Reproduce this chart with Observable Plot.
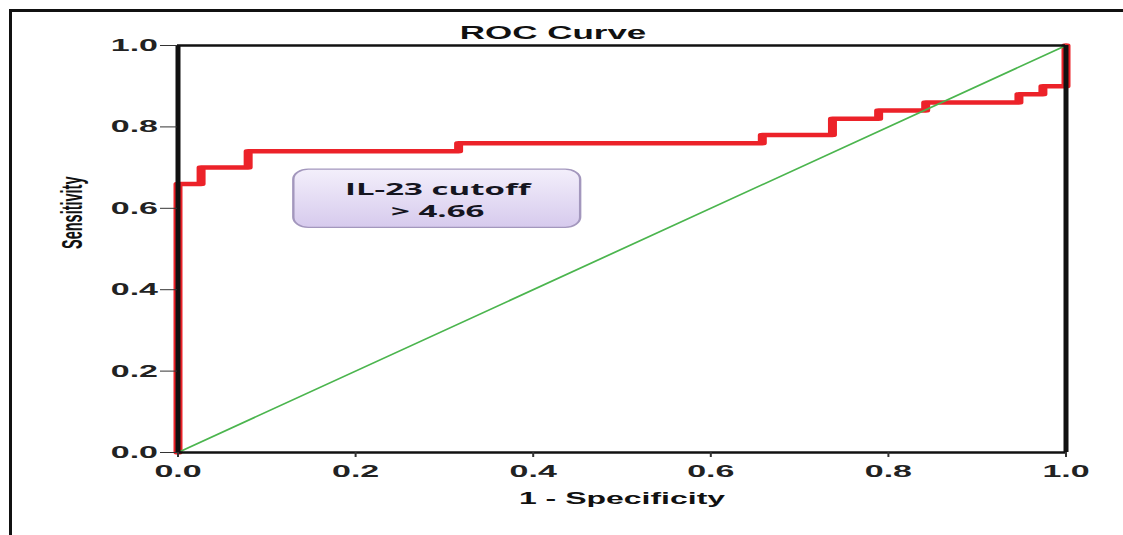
<!DOCTYPE html>
<html><head><meta charset="utf-8">
<script src="https://cdn.jsdelivr.net/npm/d3@7"></script>
<script src="https://cdn.jsdelivr.net/npm/@observablehq/plot@0.6"></script>
<style>
body{margin:0;background:#fff;}
#wrap{position:relative;width:1123px;height:535px;overflow:hidden;background:#fff;}
#frame{position:absolute;left:9px;top:9px;width:1300px;height:700px;border-left:3px solid #111;border-top:3px solid #111;}
#chart{position:absolute;left:0;top:0;}
</style></head><body>
<div id="wrap"><div id="frame"></div><div id="chart"></div></div>
<script>
// ROC curve points (1 - specificity, sensitivity)
const fpr = [0, 0, 0.026, 0.079, 0.316, 0.658, 0.737, 0.789, 0.842, 0.947, 0.974, 1];
const tpr = [0, 0.66, 0.70, 0.74, 0.76, 0.78, 0.82, 0.84, 0.86, 0.88, 0.90, 1.0];
// reference (chance) line
const refX = [0, 1];
const refY = [0, 1];
// ticks
const xTicks = [0, 0.2, 0.4, 0.6, 0.8, 1.0];
const yTicks = [0, 0.2, 0.4, 0.6, 0.8, 1.0];
// texts
const titleText = "ROC Curve";
const xTitle = "1 - Specificity";
const yTitle = "Sensitivity";
const noteLines = ["IL-23 cutoff", "> 4.66"];
const noteBox = [{x1: 0.131, x2: 0.454, y1: 0.552, y2: 0.695}];

const W = 1123, H = 535, SX = 2; // original picture is stretched 2x horizontally
const roc = fpr.map((x, i) => ({x, y: tpr[i]}));
const diag = refX.map((x, i) => ({x, y: refY[i]}));
const FONT = "'Liberation Sans', Arial, sans-serif";

const svg = Plot.plot({
  width: W / SX, height: H,
  marginLeft: 177 / SX, marginRight: 58 / SX, marginTop: 45, marginBottom: 83,
  x: {domain: [0, 1], label: null},
  y: {domain: [0, 1], label: null},
  style: {background: "transparent", overflow: "visible", fontFamily: FONT},
  marks: [
    Plot.rect(noteBox, {x1: "x1", x2: "x2", y1: "y1", y2: "y2", fill: "url(#noteGrad)", stroke: "#a397bd", strokeWidth: 1.2, rx: 7.5, ry: 10}),
    Plot.text(noteBox, {x: d => (d.x1 + d.x2) / 2, y: d => (d.y1 + d.y2) / 2, text: () => noteLines.join("\n"),
      fontFamily: "'Open Sans', sans-serif", fontWeight: 700, fontSize: 16.5, lineHeight: 1.38, fill: "#15151f"}),
    Plot.line(roc, {x: "x", y: "y", curve: "step-after", stroke: "#ec2229", strokeWidth: 4.5}),
    Plot.line(diag, {x: "x", y: "y", stroke: "#4bb54e", strokeWidth: 1.4}),
    Plot.ruleX([0, 1], {stroke: "#111", strokeWidth: 2.5}),
    Plot.ruleY([0, 1], {stroke: "#111", strokeWidth: 2.5}),
    Plot.axisY(yTicks, {tickSize: 8.5, tickPadding: 1.5, tickFormat: d3.format(".1f"), fontSize: 17, fontWeight: "bold", stroke: "#333", fill: "#222", label: null}),
    Plot.axisX(xTicks, {tickSize: 5, tickPadding: 7, tickFormat: d3.format(".1f"), fontSize: 17, fontWeight: "bold", stroke: "#333", fill: "#222", label: null}),
    Plot.text([titleText], {frameAnchor: "top", dx: 276 - 310.5, dy: -7, lineAnchor: "bottom", fontSize: 17.5, fontWeight: "bold", fill: "#111"}),
    Plot.text([xTitle], {frameAnchor: "bottom", dy: 51, lineAnchor: "bottom", fontSize: 16, fontWeight: "bold", fill: "#111"}),
    Plot.text([yTitle], {frameAnchor: "left", dx: 36 - 88.5, rotate: -90, fontSize: 14.5, fontWeight: "bold", fill: "#111"})
  ]
});

// gradient for the annotation box
const ns = "http://www.w3.org/2000/svg";
const defs = document.createElementNS(ns, "defs");
defs.innerHTML = `<linearGradient id="noteGrad" x1="0" y1="0" x2="0" y2="1">
  <stop offset="0" stop-color="#f3effb"/><stop offset="1" stop-color="#d6caed"/></linearGradient>`;
svg.insertBefore(defs, svg.firstChild);

// stretch the drawing horizontally like the source picture
svg.setAttribute("viewBox", `0 0 ${W / SX} ${H}`);
svg.setAttribute("width", W);
svg.setAttribute("height", H);
svg.setAttribute("preserveAspectRatio", "none");
svg.style.width = W + "px";
svg.style.height = H + "px";
svg.style.maxWidth = "none";
document.getElementById("chart").appendChild(svg);
</script>
</body></html>
